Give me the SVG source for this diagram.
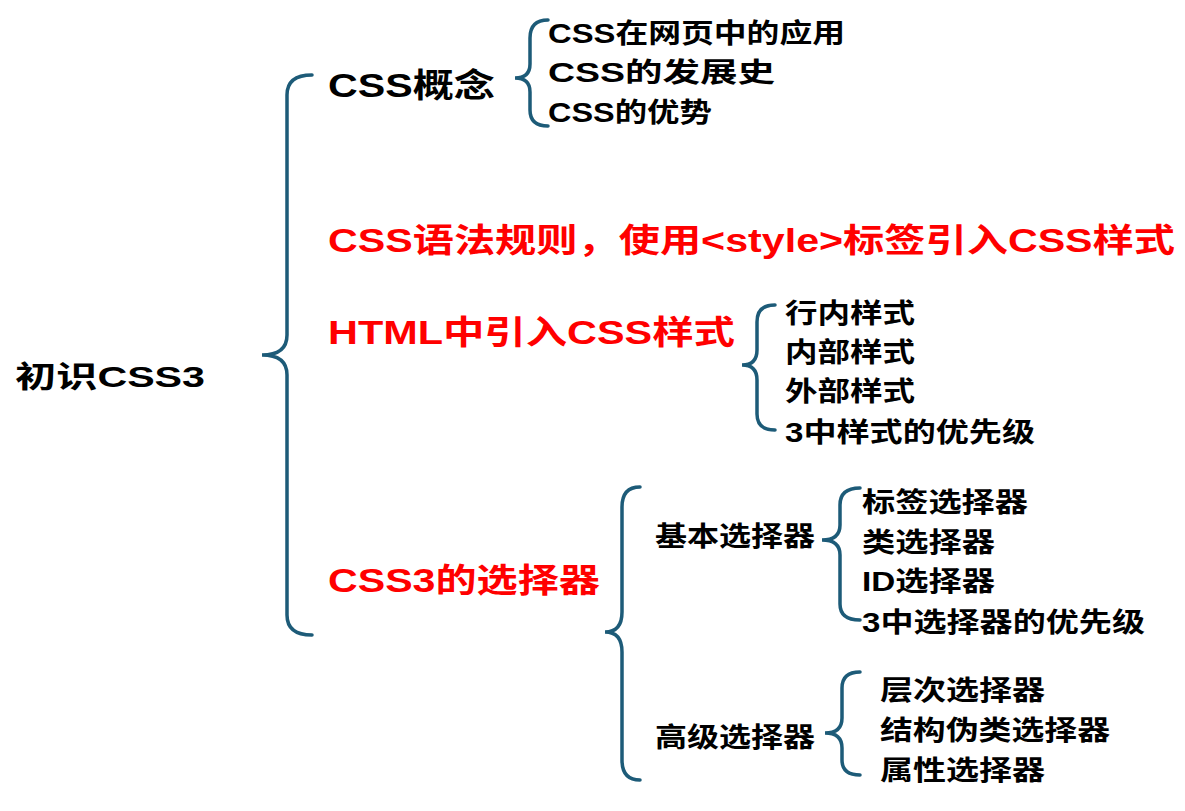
<svg xmlns="http://www.w3.org/2000/svg" width="1185" height="811" viewBox="0 0 1185 811">
<style>
text{font-family:"Liberation Sans","Noto Sans CJK SC",sans-serif;font-weight:bold;fill:#000}
.b{font-size:33px}.s{font-size:27px}.r{fill:#ff0000}
.br{fill:none;stroke:#1d5b78;stroke-width:3.5;stroke-linecap:round}
</style>
<rect width="1185" height="811" fill="#fff"/>
<g id="connectors">
<path class="br" d="M312,75 Q287,75 287,95 L287,335 Q287,355 262,355 Q287,355 287,375 L287,615 Q287,635 312,635"/>
<path class="br" d="M548,20 Q530,20 530,38 L530,64 Q530,78 515,78 Q530,78 530,92 L530,110 Q530,126 548,126"/>
<path class="br" d="M775,305 Q757,305 757,322 L757,350 Q757,365 742,365 Q757,365 757,380 L757,414 Q757,430 775,430"/>
<path class="br" d="M640,487 Q622,487 622,507 L622,612 Q622,632 605,632 Q622,632 622,652 L622,760 Q622,780 640,780"/>
<path class="br" d="M860,488 Q840,488 840,505 L840,525 Q840,540 822,540 Q840,540 840,555 L840,604 Q840,620 860,620"/>
<path class="br" d="M860,672 Q842,672 842,688 L842,718 Q842,733 825,733 Q842,733 842,748 L842,760 Q842,775 860,775"/>
</g>
<g id="root"><text x="15" y="387" style="font-size:30px" textLength="190" lengthAdjust="spacingAndGlyphs">初识CSS3</text></g>
<g id="n1"><text class="b" x="328" y="97" textLength="167" lengthAdjust="spacingAndGlyphs">CSS概念</text></g>
<g id="n1a"><text class="s" x="548" y="43" textLength="297" lengthAdjust="spacingAndGlyphs">CSS在网页中的应用</text></g>
<g id="n1b"><text class="s" x="548" y="82" textLength="227" lengthAdjust="spacingAndGlyphs">CSS的发展史</text></g>
<g id="n1c"><text class="s" x="548" y="122" textLength="164" lengthAdjust="spacingAndGlyphs">CSS的优势</text></g>
<g id="n2"><text class="b r" x="328" y="252" textLength="847" lengthAdjust="spacingAndGlyphs">CSS语法规则，使用&lt;style&gt;标签引入CSS样式</text></g>
<g id="n3"><text class="b r" x="328" y="344" textLength="407" lengthAdjust="spacingAndGlyphs">HTML中引入CSS样式</text></g>
<g id="n3a"><text class="s" x="785" y="323" textLength="130" lengthAdjust="spacingAndGlyphs">行内样式</text></g>
<g id="n3b"><text class="s" x="785" y="362" textLength="130" lengthAdjust="spacingAndGlyphs">内部样式</text></g>
<g id="n3c"><text class="s" x="785" y="401" textLength="130" lengthAdjust="spacingAndGlyphs">外部样式</text></g>
<g id="n3d"><text class="s" x="785" y="442" textLength="250" lengthAdjust="spacingAndGlyphs">3中样式的优先级</text></g>
<g id="n4"><text class="b r" x="328" y="592" textLength="272" lengthAdjust="spacingAndGlyphs">CSS3的选择器</text></g>
<g id="n4a"><text class="s" x="655" y="546" textLength="160" lengthAdjust="spacingAndGlyphs">基本选择器</text></g>
<g id="n4a1"><text class="s" x="862" y="512" textLength="166" lengthAdjust="spacingAndGlyphs">标签选择器</text></g>
<g id="n4a2"><text class="s" x="862" y="552" textLength="133" lengthAdjust="spacingAndGlyphs">类选择器</text></g>
<g id="n4a3"><text class="s" x="862" y="591" textLength="133" lengthAdjust="spacingAndGlyphs">ID选择器</text></g>
<g id="n4a4"><text class="s" x="862" y="632" textLength="283" lengthAdjust="spacingAndGlyphs">3中选择器的优先级</text></g>
<g id="n4b"><text class="s" x="655" y="747" textLength="160" lengthAdjust="spacingAndGlyphs">高级选择器</text></g>
<g id="n4b1"><text class="s" x="880" y="700" textLength="165" lengthAdjust="spacingAndGlyphs">层次选择器</text></g>
<g id="n4b2"><text class="s" x="880" y="740" textLength="230" lengthAdjust="spacingAndGlyphs">结构伪类选择器</text></g>
<g id="n4b3"><text class="s" x="880" y="780" textLength="165" lengthAdjust="spacingAndGlyphs">属性选择器</text></g>
</svg>
